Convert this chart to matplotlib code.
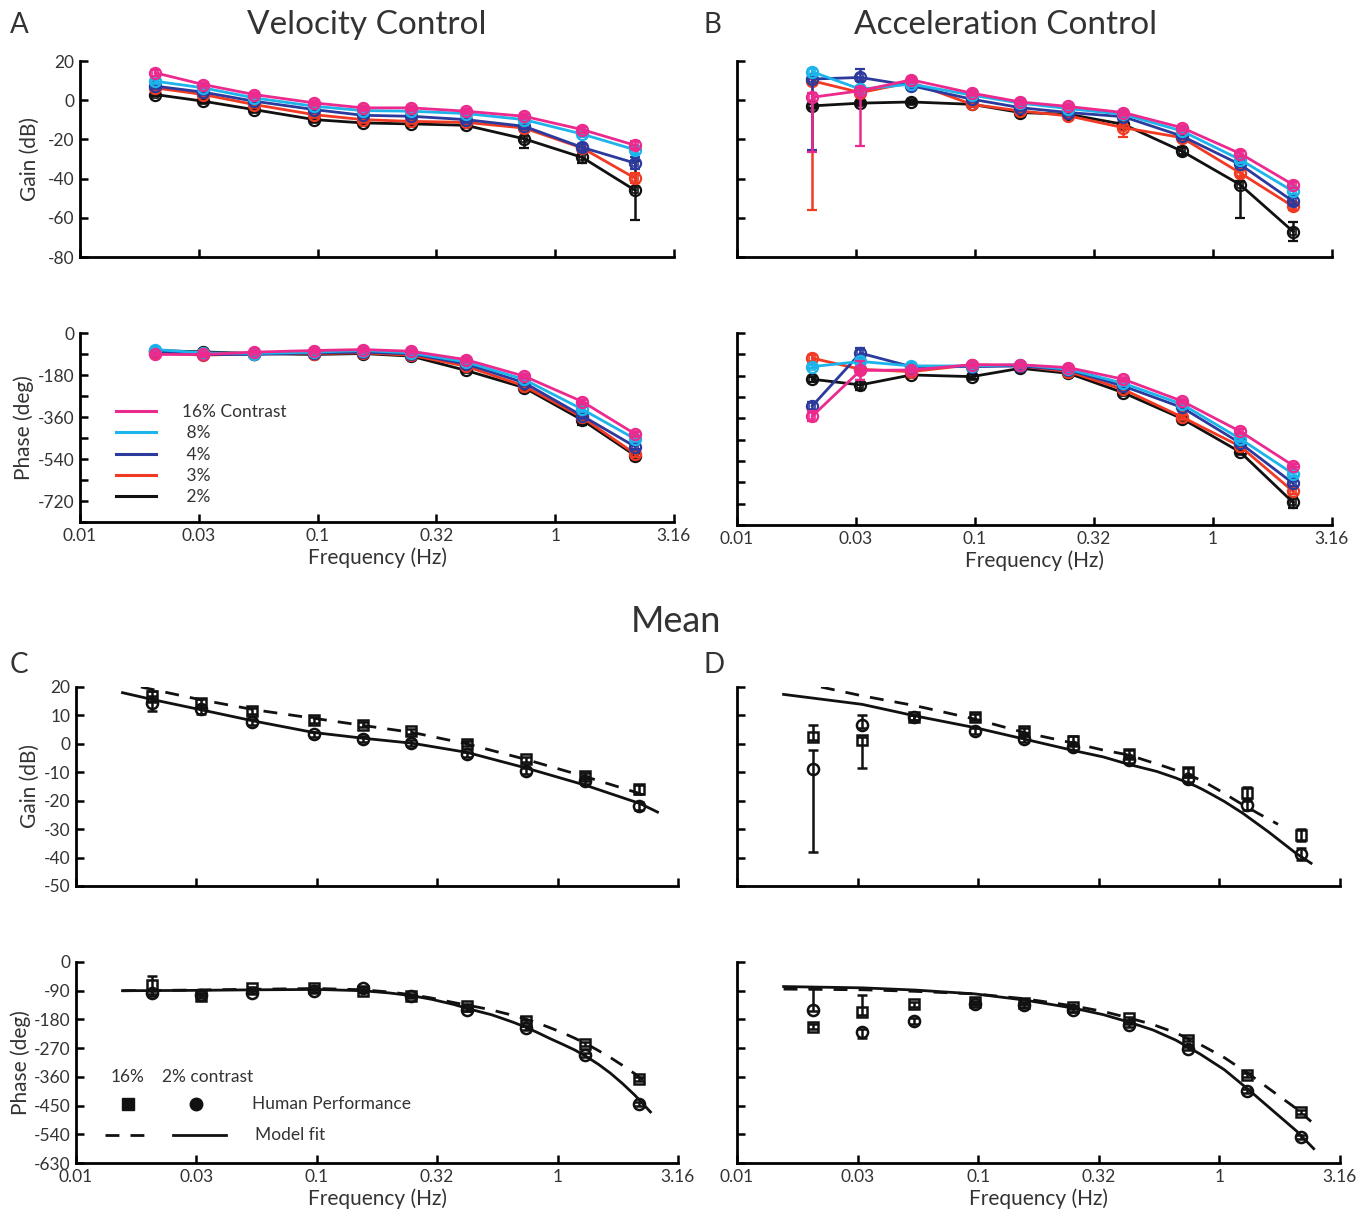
import matplotlib
matplotlib.use('Agg')
import matplotlib.pyplot as plt
from matplotlib.lines import Line2D
from matplotlib.ticker import NullLocator

plt.rcParams['font.family'] = ['Lato', 'DejaVu Sans']

# ---------------- data ----------------
freq = [0.0207, 0.033, 0.054, 0.097, 0.155, 0.247, 0.42, 0.74, 1.3, 2.17]

contrast_labels = ['16% Contrast', ' 8%', ' 4%', ' 3%', ' 2%']
contrast_colors = ['#EC2A8E', '#1CB4EA', '#2B3A9C', '#F03A23', '#111111']

# Panel A: velocity control gain (dB)
vel_gain_16 = [14.0, 8.0, 2.9, -1.4, -3.9, -3.9, -5.6, -8.2, -15.0, -23.0]
vel_gain_8 = [9.7, 6.3, 1.2, -3.1, -5.3, -5.6, -6.8, -9.9, -17.3, -25.3]
vel_gain_4 = [7.2, 4.1, -0.5, -4.8, -7.7, -8.2, -9.9, -13.3, -24.1, -32.1]
vel_gain_3 = [6.3, 2.9, -2.2, -7.4, -9.9, -10.8, -11.3, -14.2, -24.4, -39.8]
vel_gain_2 = [2.9, -0.5, -4.8, -9.9, -11.6, -12.1, -12.8, -19.7, -29.2, -46.0]
vel_gain_err_16 = [1.5, 1, 1, 1, 1, 1, 1, 1, 1.5, 2]
vel_gain_err_8 = [1, 1, 1, 1, 1, 1, 1, 1, 1.5, 2]
vel_gain_err_4 = [1, 1, 1, 1, 1, 1, 1, 1.5, 2, 3]
vel_gain_err_3 = [1, 1, 1, 1, 1, 1, 1, 1.5, 2, 2.5]
vel_gain_err_2 = [1, 1, 1, 1, 1, 1, 1.5, 4.5, 3, 15]

# Panel A: velocity control phase (deg)
vel_phase_16 = [-92, -92, -82, -75, -71, -78, -114, -185, -294, -433]
vel_phase_8 = [-71, -85, -88, -82, -75, -85, -124, -199, -327, -454]
vel_phase_4 = [-78, -92, -92, -85, -82, -89, -132, -213, -355, -487]
vel_phase_3 = [-85, -95, -89, -88, -85, -95, -142, -227, -362, -518]
vel_phase_2 = [-75, -81, -88, -92, -88, -99, -160, -234, -373, -525]
vel_phase_err_16 = [6, 5, 5, 5, 5, 5, 6, 6, 8, 8]
vel_phase_err_8 = [6, 5, 5, 5, 5, 5, 6, 6, 8, 8]
vel_phase_err_4 = [6, 5, 5, 5, 5, 5, 6, 6, 8, 10]
vel_phase_err_3 = [6, 5, 5, 5, 5, 5, 6, 6, 10, 15]
vel_phase_err_2 = [6, 5, 5, 5, 5, 5, 6, 8, 20, 20]

# Panel B: acceleration control gain (dB)
acc_gain_16 = [1.5, 4.8, 10.4, 3.6, -0.9, -3.2, -6.3, -14.0, -27.2, -43.1]
acc_gain_8 = [14.5, 5.6, 8.2, 2.6, -1.5, -4.3, -7.2, -15.7, -30.3, -46.5]
acc_gain_4 = [10.8, 11.6, 7.4, 0.5, -3.8, -6.3, -8.4, -18.3, -32.8, -51.6]
acc_gain_3 = [9.9, 3.9, 9.1, -2.1, -5.5, -8.0, -14.0, -19.1, -37.1, -54.2]
acc_gain_2 = [-2.9, -1.5, -0.9, -2.1, -6.3, -7.2, -12.3, -26.0, -43.1, -67.0]
acc_gain_lo_16 = [28, 28, 1, 1, 1, 1, 1, 1, 1.5, 1.5]
acc_gain_hi_16 = [2, 2, 1, 1, 1, 1, 1, 1, 1.5, 1.5]
acc_gain_lo_8 = [1.5, 1.5, 1, 1, 1, 1, 1, 1, 1.5, 1.5]
acc_gain_hi_8 = [1.5, 1.5, 1, 1, 1, 1, 1, 1, 1.5, 1.5]
acc_gain_lo_4 = [36, 2, 1, 1, 1, 1, 1, 1, 1.5, 2]
acc_gain_hi_4 = [1, 4.3, 1, 1, 1, 1, 1, 1, 1.5, 2]
acc_gain_lo_3 = [66, 1, 1, 1, 1, 1, 5, 1, 2, 2]
acc_gain_hi_3 = [1, 1, 1, 1, 1, 1, 5, 1, 2, 2]
acc_gain_lo_2 = [1, 1, 1, 1, 1, 1, 1, 2, 17, 5]
acc_gain_hi_2 = [1, 1, 1, 1, 1, 1, 1, 2, 2, 5]

# Panel B: acceleration control phase (deg)
acc_phase_16 = [-351, -158, -156, -134, -134, -146, -195, -287, -415, -559]
acc_phase_8 = [-142, -120, -139, -139, -134, -153, -212, -300, -446, -594]
acc_phase_4 = [-308, -85, -142, -142, -139, -156, -224, -314, -464, -634]
acc_phase_3 = [-106, -153, -163, -134, -139, -163, -238, -354, -478, -668]
acc_phase_2 = [-195, -219, -177, -184, -149, -170, -252, -361, -502, -715]
acc_phase_err_16 = [20, 40, 5, 5, 5, 5, 6, 6, 8, 8]
acc_phase_err_8 = [6, 6, 5, 5, 5, 5, 6, 6, 8, 8]
acc_phase_err_4 = [15, 22, 5, 5, 5, 5, 6, 6, 8, 10]
acc_phase_err_3 = [15, 8, 5, 8, 5, 5, 6, 8, 8, 12]
acc_phase_err_2 = [10, 20, 5, 12, 5, 5, 6, 8, 10, 25]

# Panel C: mean velocity control (16% squares, 2% circles)
mean_vel_gain_16 = [16.7, 14.4, 11.5, 8.3, 6.8, 4.4, 0.1, -5.5, -11.4, -16.0]
mean_vel_gain_2 = [14.2, 12.1, 7.6, 3.3, 1.8, 0.4, -3.7, -9.6, -13.1, -21.9]
mean_vel_gain_err_16 = [2, 1.5, 1, 1, 1, 1, 1, 1, 1, 1.5]
mean_vel_gain_err_2 = [2.5, 1.5, 1, 1, 1, 1, 1, 1, 1, 1.5]
mean_vel_phase_16 = [-72, -106, -83, -80, -90, -108, -137, -186, -258, -367]
mean_vel_phase_2 = [-98, -103, -96, -91, -83, -105, -150, -207, -292, -444]
mean_vel_phase_err_16 = [28, 6, 4, 4, 4, 4, 5, 5, 6, 6]
mean_vel_phase_err_2 = [8, 5, 4, 4, 4, 4, 5, 5, 6, 6]

fit_vel_gain_f_solid = [0.0156, 0.021, 0.033, 0.055, 0.097, 0.155, 0.25, 0.42, 0.74, 1.3, 2.2, 2.6]
fit_vel_gain_solid = [18.0, 15.5, 12.0, 8.0, 4.0, 2.0, 0.2, -3.0, -8.5, -14.5, -21.0, -24.0]
fit_vel_gain_f_dash = [0.0186, 0.033, 0.055, 0.097, 0.155, 0.25, 0.42, 0.74, 1.3, 2.2, 2.4]
fit_vel_gain_dash = [20.0, 15.5, 12.0, 9.0, 6.5, 4.0, 0.0, -5.5, -11.5, -17.5, -19.5]
fit_vel_phase_f_solid = [0.0156, 0.03, 0.06, 0.1, 0.155, 0.2, 0.25, 0.3, 0.37, 0.42, 0.47,
                         0.53, 0.59, 0.66, 0.74, 0.83, 0.93, 1.05, 1.18, 1.32, 1.48,
                         1.66, 1.86, 2.09, 2.25, 2.43]
fit_vel_phase_solid = [-90, -89, -87, -86, -90, -97, -106, -117, -133, -145, -155,
                       -165, -177, -190, -205, -222, -240, -258, -276, -297, -321,
                       -349, -381, -417, -443, -470]
fit_vel_phase_f_dash = [0.0156, 0.03, 0.06, 0.1, 0.155, 0.2, 0.25, 0.3, 0.37, 0.42, 0.47,
                        0.53, 0.59, 0.66, 0.74, 0.83, 0.93, 1.05, 1.18, 1.32, 1.48,
                        1.66, 1.86, 2.09, 2.36]
fit_vel_phase_dash = [-90, -88, -85, -83, -87, -94, -103, -113, -127, -135, -142,
                      -150, -159, -168, -179, -192, -206, -222, -239, -257, -278,
                      -300, -324, -350, -380]

# Panel D: mean acceleration control
mean_acc_gain_16 = [2.3, 1.3, 9.3, 9.5, 4.6, 1.1, -3.6, -10.0, -17.3, -32.0]
mean_acc_gain_2 = [-9.0, 6.7, 9.3, 4.6, 1.7, -1.0, -5.7, -12.3, -21.6, -38.8]
mean_acc_gain_lo_16 = [1, 9.8, 1, 1, 1, 1.5, 1.5, 1.5, 2, 2]
mean_acc_gain_hi_16 = [4.4, 1, 1, 1, 1, 1.5, 1.5, 1.5, 2, 2]
mean_acc_gain_lo_2 = [29, 1, 1, 1, 1, 1, 1, 1, 1.5, 2]
mean_acc_gain_hi_2 = [7, 3.4, 1, 1, 1, 1, 1, 1, 1.5, 2]
mean_acc_phase_16 = [-203, -157, -133, -126, -129, -141, -177, -244, -353, -471]
mean_acc_phase_2 = [-150, -219, -185, -131, -136, -152, -198, -272, -404, -548]
mean_acc_phase_lo_16 = [8, 8, 8, 4, 4, 4, 5, 5, 6, 6]
mean_acc_phase_hi_16 = [8, 54, 8, 4, 4, 4, 5, 5, 6, 6]
mean_acc_phase_lo_2 = [5, 20, 8, 4, 4, 4, 5, 5, 6, 6]
mean_acc_phase_hi_2 = [70, 8, 8, 4, 4, 4, 5, 5, 6, 6]

fit_acc_gain_f_solid = [0.0156, 0.033, 0.055, 0.097, 0.155, 0.25, 0.33, 0.42, 0.55, 0.66,
                        0.74, 0.8, 0.85, 0.93, 1.05, 1.25, 1.6, 2.07, 2.4]
fit_acc_gain_solid = [17.4, 13.9, 9.8, 5.7, 1.7, -2.4, -4.6, -7.2, -9.7, -12.0,
                      -13.7, -14.9, -16.0, -17.8, -20.3, -24.4, -31.0, -38.4, -42.0]
fit_acc_gain_f_dash = [0.0223, 0.033, 0.055, 0.097, 0.155, 0.25, 0.33, 0.42, 0.6, 0.74,
                       0.85, 0.99, 1.2, 1.45, 1.75]
fit_acc_gain_dash = [20.0, 16.9, 13.4, 8.7, 4.0, 0.2, -2.2, -3.9, -8.1, -10.8,
                     -13.0, -16.2, -20.5, -24.5, -28.3]
fit_acc_phase_f_solid = [0.0156, 0.033, 0.055, 0.097, 0.155, 0.25, 0.33, 0.42, 0.53, 0.66,
                         0.83, 1.05, 1.32, 1.66, 2.09, 2.46]
fit_acc_phase_solid = [-77, -81, -88, -100, -119, -145, -165, -188, -213, -245,
                       -288, -338, -400, -465, -530, -585]
fit_acc_phase_f_dash = [0.0156, 0.033, 0.055, 0.097, 0.155, 0.25, 0.33, 0.42, 0.53, 0.66,
                        0.83, 1.05, 1.32, 1.66, 2.09, 2.4]
fit_acc_phase_dash = [-85, -87, -92, -100, -115, -138, -155, -175, -196, -222,
                      -258, -300, -350, -405, -460, -500]

xtick_vals = [0.01, 0.0316, 0.1, 0.316, 1.0, 3.16]
xtick_labels = ['0.01', '0.03', '0.1', '0.32', '1', '3.16']

gain_ticks_AB = [-80, -60, -40, -20, 0, 20]
phase_ticks_AB = [-810, -720, -630, -540, -450, -360, -270, -180, -90, 0]
phase_labels_A = ['', '-720', '', '-540', '', '-360', '', '-180', '', '0']
gain_ticks_CD = [-50, -40, -30, -20, -10, 0, 10, 20]
phase_ticks_CD = [-630, -540, -450, -360, -270, -180, -90, 0]

# ---------------- figure ----------------
W, H = 1356, 1210
fig = plt.figure(figsize=(W / 100, H / 100), dpi=100)


def box(x0, x1, ytop, ybot):
    return [x0 / W, 1 - ybot / H, (x1 - x0) / W, (ybot - ytop) / H]


def style(ax, ylim, yticks, ylabels, xlabels):
    ax.set_xscale('log')
    ax.set_xlim(0.01, 3.1623)
    ax.set_xticks(xtick_vals)
    ax.xaxis.set_minor_locator(NullLocator())
    ax.set_xticklabels(xtick_labels if xlabels else [''] * len(xtick_vals))
    ax.set_ylim(*ylim)
    ax.set_yticks(yticks)
    ax.set_yticklabels(ylabels if ylabels is not None else [''] * len(yticks))
    for s in ['top', 'right']:
        ax.spines[s].set_visible(False)
    for s in ['left', 'bottom']:
        ax.spines[s].set_linewidth(2)
    ax.tick_params(direction='in', length=6, width=1.8, labelsize=12.5, pad=4,
                   labelcolor='#333333')
    ax.set_facecolor('none')


axA1 = fig.add_axes(box(80, 674, 61, 257))
axA2 = fig.add_axes(box(80, 674, 333, 522))
axB1 = fig.add_axes(box(737, 1332, 61, 257))
axB2 = fig.add_axes(box(737, 1332, 333, 525))
axC1 = fig.add_axes(box(76, 678, 687, 886))
axC2 = fig.add_axes(box(76, 678, 962, 1163))
axD1 = fig.add_axes(box(737, 1340, 687, 886))
axD2 = fig.add_axes(box(737, 1340, 962, 1163))

style(axA1, (-80, 20), gain_ticks_AB, [str(v) for v in gain_ticks_AB], False)
style(axA2, (-810, 0), phase_ticks_AB, phase_labels_A, True)
style(axB1, (-80, 20), gain_ticks_AB, None, False)
style(axB2, (-810, 0), phase_ticks_AB, None, True)
style(axC1, (-50, 20), gain_ticks_CD, [str(v) for v in gain_ticks_CD], False)
style(axC2, (-630, 0), phase_ticks_CD, [str(v) for v in phase_ticks_CD], True)
style(axD1, (-50, 20), gain_ticks_CD, None, False)
style(axD2, (-630, 0), phase_ticks_CD, None, True)

lab_fs = 15
txt = '#333333'
axA1.set_ylabel('Gain (dB)', fontsize=lab_fs, labelpad=6, color=txt)
axA2.set_ylabel('Phase (deg)', fontsize=lab_fs, labelpad=3, color=txt)
axC1.set_ylabel('Gain (dB)', fontsize=lab_fs, labelpad=3, color=txt)
axC2.set_ylabel('Phase (deg)', fontsize=lab_fs, labelpad=2, color=txt)
for ax in [axA2, axB2, axC2, axD2]:
    ax.set_xlabel('Frequency (Hz)', fontsize=lab_fs, labelpad=3, color=txt)

# ---- A & B colored series ----
vel_gain = [vel_gain_16, vel_gain_8, vel_gain_4, vel_gain_3, vel_gain_2]
vel_gain_err = [vel_gain_err_16, vel_gain_err_8, vel_gain_err_4, vel_gain_err_3, vel_gain_err_2]
vel_phase = [vel_phase_16, vel_phase_8, vel_phase_4, vel_phase_3, vel_phase_2]
vel_phase_err = [vel_phase_err_16, vel_phase_err_8, vel_phase_err_4, vel_phase_err_3, vel_phase_err_2]
acc_gain = [acc_gain_16, acc_gain_8, acc_gain_4, acc_gain_3, acc_gain_2]
acc_gain_err = [[acc_gain_lo_16, acc_gain_hi_16], [acc_gain_lo_8, acc_gain_hi_8],
                [acc_gain_lo_4, acc_gain_hi_4], [acc_gain_lo_3, acc_gain_hi_3],
                [acc_gain_lo_2, acc_gain_hi_2]]
acc_phase = [acc_phase_16, acc_phase_8, acc_phase_4, acc_phase_3, acc_phase_2]
acc_phase_err = [acc_phase_err_16, acc_phase_err_8, acc_phase_err_4, acc_phase_err_3, acc_phase_err_2]


def colored(ax, ys, errs):
    for i in reversed(range(5)):
        c = contrast_colors[i]
        z = 10 - i
        ax.errorbar(freq, ys[i], yerr=errs[i], color=c, lw=2, marker='o', ms=8,
                    mfc='none', mec=c, mew=1.6, capsize=3.5, elinewidth=1.8,
                    capthick=1.8, zorder=z)
        ax.plot(freq, ys[i], ls='none', marker='s', ms=5, mfc='none', mec=c,
                mew=1.2, zorder=z)


colored(axA1, vel_gain, vel_gain_err)
colored(axA2, vel_phase, vel_phase_err)
colored(axB1, acc_gain, acc_gain_err)
colored(axB2, acc_phase, acc_phase_err)

handles = [Line2D([], [], color=c, lw=2.2) for c in contrast_colors]
leg = axA2.legend(handles, contrast_labels, loc='upper left', bbox_to_anchor=(0.06, 0.625),
                  frameon=False, fontsize=12.5, handlelength=2.3, handletextpad=1.5,
                  labelspacing=0.31, borderpad=0, borderaxespad=0)
for tx in leg.get_texts():
    tx.set_color(txt)


# ---- C & D mean ----
def mean_panel(ax, y16, e16, y2, e2, fs, ys, fd, yd):
    ax.plot(fs, ys, color='#111111', lw=2, zorder=3)
    ax.plot(fd, yd, color='#111111', lw=2, ls=(0, (5, 4)), zorder=3)
    ax.errorbar(freq, y16, yerr=e16, fmt='s', color='#111111', ms=7, mfc='none',
                mew=1.8, capsize=3.5, elinewidth=1.8, capthick=1.8, zorder=4)
    ax.errorbar(freq, y2, yerr=e2, fmt='o', color='#111111', ms=8, mfc='none',
                mew=1.8, capsize=3.5, elinewidth=1.8, capthick=1.8, zorder=4)


mean_panel(axC1, mean_vel_gain_16, mean_vel_gain_err_16, mean_vel_gain_2, mean_vel_gain_err_2,
           fit_vel_gain_f_solid, fit_vel_gain_solid, fit_vel_gain_f_dash, fit_vel_gain_dash)
mean_panel(axC2, mean_vel_phase_16, mean_vel_phase_err_16, mean_vel_phase_2, mean_vel_phase_err_2,
           fit_vel_phase_f_solid, fit_vel_phase_solid, fit_vel_phase_f_dash, fit_vel_phase_dash)
mean_panel(axD1, mean_acc_gain_16, [mean_acc_gain_lo_16, mean_acc_gain_hi_16],
           mean_acc_gain_2, [mean_acc_gain_lo_2, mean_acc_gain_hi_2],
           fit_acc_gain_f_solid, fit_acc_gain_solid, fit_acc_gain_f_dash, fit_acc_gain_dash)
mean_panel(axD2, mean_acc_phase_16, [mean_acc_phase_lo_16, mean_acc_phase_hi_16],
           mean_acc_phase_2, [mean_acc_phase_lo_2, mean_acc_phase_hi_2],
           fit_acc_phase_f_solid, fit_acc_phase_solid, fit_acc_phase_f_dash, fit_acc_phase_dash)

# legend of panel C phase
t = axC2.transAxes
axC2.text(0.058, 0.43, '16%', transform=t, fontsize=12.5, va='center', ha='left', color=txt)
axC2.text(0.143, 0.43, '2% contrast', transform=t, fontsize=12.5, va='center', ha='left', color=txt)
axC2.plot([0.086], [0.294], transform=t, marker='s', ms=8, color='#111111', ls='none')
axC2.plot([0.199], [0.294], transform=t, marker='o', ms=9, color='#111111', ls='none')
axC2.text(0.292, 0.294, 'Human Performance', transform=t, fontsize=12.5, va='center',
          ha='left', color=txt)
axC2.plot([0.048, 0.131], [0.139, 0.139], transform=t, color='#111111', lw=2, ls=(0, (5, 4)))
axC2.plot([0.161, 0.249], [0.139, 0.139], transform=t, color='#111111', lw=2)
axC2.text(0.297, 0.139, 'Model fit', transform=t, fontsize=12.5, va='center', ha='left', color=txt)

# titles & panel letters
fig.text(367 / W, 1 - 25 / H, 'Velocity Control', fontsize=24, ha='center', va='center', color=txt)
fig.text(1006 / W, 1 - 25 / H, 'Acceleration Control', fontsize=24, ha='center', va='center',
         color=txt)
fig.text(676 / W, 1 - 622 / H, 'Mean', fontsize=26, ha='center', va='center', color=txt)
fig.text(10 / W, 1 - 25 / H, 'A', fontsize=20, ha='left', va='center', color=txt)
fig.text(703 / W, 1 - 25 / H, 'B', fontsize=20, ha='left', va='center', color=txt)
fig.text(10 / W, 1 - 665 / H, 'C', fontsize=20, ha='left', va='center', color=txt)
fig.text(703 / W, 1 - 665 / H, 'D', fontsize=20, ha='left', va='center', color=txt)

fig.savefig('out.png', dpi=100)
